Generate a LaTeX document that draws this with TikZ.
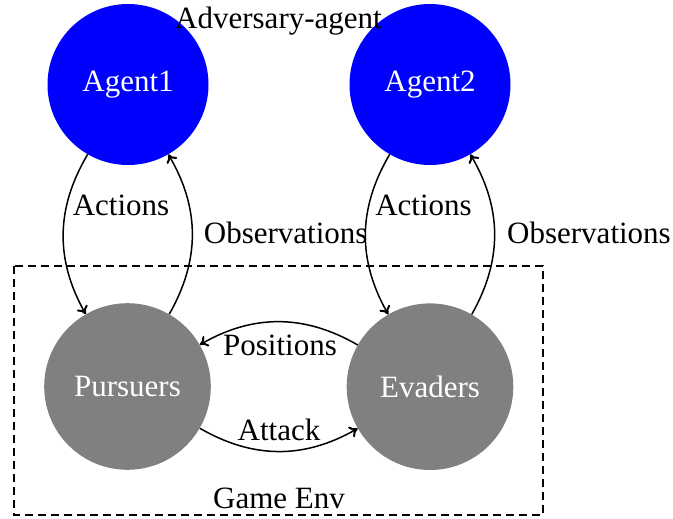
\documentclass[tikz,border=0pt]{standalone}
\usepackage{fontspec}
\setmainfont{Liberation Serif}
\usetikzlibrary{arrows.meta}
\begin{document}
\begin{tikzpicture}[x=1pt,y=-1pt,
  every node/.style={font=\fontsize{31}{37}\selectfont},
  agent/.style={circle,fill={rgb,255:red,0;green,0;blue,255},text=white,minimum size=161pt,inner sep=0pt},
  envnode/.style={circle,fill={rgb,255:red,128;green,128;blue,128},text=white,minimum size=166.6pt,inner sep=0pt},
  conn/.style={line width=1.5pt,-{To[length=8pt,width=12pt,line width=2pt]}},
  lbl/.style={anchor=base,inner sep=0pt},
  envbox/.style={line width=1.2pt,dash pattern=on 8pt off 5pt}]
\useasboundingbox (0,0) rectangle (673,519);
\draw[envbox] (14,266) rectangle (543,515);
\node[agent] (a1) at (128,84.5) {Agent1};
\node[agent] (a2) at (430,84.5) {Agent2};
\node[envnode] (pu) at (127.5,386.5) {Pursuers};
\node[envnode] (ev) at (430,386.7) {Evaders};
\draw[conn] (a1.240) to[bend right=30] (pu.120);
\draw[conn] (pu.60) to[bend right=30] (a1.300);
\draw[conn] (a2.240) to[bend right=30] (ev.120);
\draw[conn] (ev.60) to[bend right=30] (a2.300);
\draw[conn] (ev.150) to[bend right=30] (pu.30);
\draw[conn] (pu.330) to[bend right=30] (ev.210);
\node[lbl] (lact1) at (121,215) {Actions};
\node[lbl] (lobs1) at (285.7,243) {Observations};
\node[lbl] (lact2) at (423.5,215) {Actions};
\node[lbl] (lobs2) at (589,243) {Observations};
\node[lbl] (lpos) at (280,355) {Positions};
\node[lbl] (latt) at (279,440) {Attack};
\node[lbl] (ladv) at (278.5,28.3) {Adversary-agent};
\node[lbl] (lgame) at (279,508) {Game Env};
\end{tikzpicture}
\end{document}
